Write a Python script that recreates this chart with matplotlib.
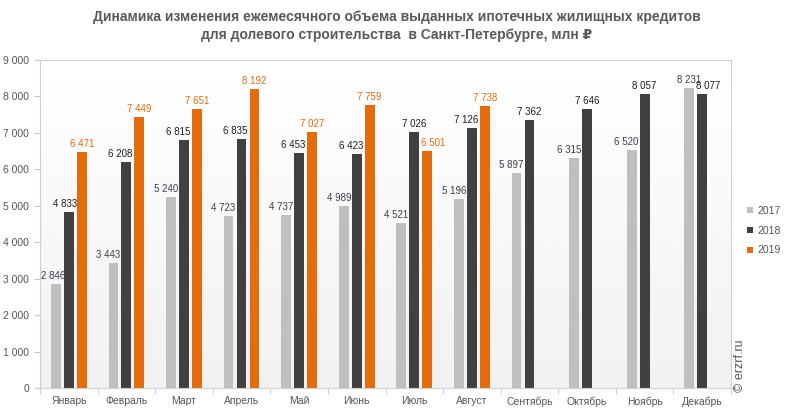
import matplotlib

matplotlib.use("Agg")
import matplotlib.pyplot as plt
import numpy as np
from matplotlib.transforms import offset_copy

plt.rcParams["font.family"] = ["Liberation Sans", "DejaVu Sans"]

months = [
    "Январь", "Февраль", "Март", "Апрель", "Май", "Июнь",
    "Июль", "Август", "Сентябрь", "Октябрь", "Ноябрь", "Декабрь",
]
values_2017 = [2846, 3443, 5240, 4723, 4737, 4989, 4521, 5196, 5897, 6315, 6520, 8231]
values_2018 = [4833, 6208, 6815, 6835, 6453, 6423, 7026, 7126, 7362, 7646, 8057, 8077]
values_2019 = [6471, 7449, 7651, 8192, 7027, 7759, 6501, 7738]

series = [
    ("2017", values_2017, "#bfbfbf", "#3a3f4a", -0.225),
    ("2018", values_2018, "#404040", "#1c1c28", 0.0),
    ("2019", values_2019, "#e46c0a", "#e46c0a", 0.225),
]

# horizontal nudges (pixels) the original chart uses to keep labels apart
default_nudge = {"2017": -5, "2018": -6, "2019": 0}
label_nudge = {
    ("2017", 0): -3, ("2017", 11): 0,
    ("2018", 0): -4, ("2018", 6): 0, ("2018", 8): 0, ("2018", 9): 0,
    ("2018", 10): 0, ("2018", 11): 6,
    ("2019", 6): 6,
}


def fmt(v):
    return f"{v:,}".replace(",", " ")


fig = plt.figure(figsize=(7.93, 4.15), dpi=100)
ax = fig.add_axes([40 / 793, 27 / 415, 691 / 793, 328 / 415])

# light vertical gradient background
grad = np.linspace(1.0, 0.945, 256).reshape(-1, 1)
ax.imshow(grad, cmap="gray", vmin=0, vmax=1, aspect="auto",
          extent=(-0.5, 11.5, 0, 9000), zorder=0)

x = np.arange(len(months))
for name, vals, color, text_color, off in series:
    xs = x[: len(vals)] + off
    ax.bar(xs, vals, width=0.17, color=color, label=name, zorder=2)
    for i, (xi, v) in enumerate(zip(xs, vals)):
        dx = label_nudge.get((name, i), default_nudge[name])
        trans = offset_copy(ax.transData, fig=fig, x=dx, y=3, units="dots")
        ax.text(xi, v, fmt(v), ha="center", va="bottom", transform=trans,
                fontsize=7, color=text_color, zorder=3)

ax.set_xlim(-0.5, 11.5)
ax.set_ylim(0, 9000)
ax.set_yticks(range(0, 9001, 1000))
ax.set_yticklabels([fmt(v) for v in range(0, 9001, 1000)])
ax.set_xticks(x)
ax.set_xticklabels(months)
ax.set_xticks(np.arange(-0.5, 12, 1), minor=True)
ax.tick_params(axis="x", which="major", length=0, pad=6)
ax.tick_params(axis="x", which="minor", length=4, color="#c8c8c8")
ax.tick_params(axis="y", length=4, color="#c8c8c8", pad=4)
ax.tick_params(labelsize=7.5, labelcolor="#555555")
for side in ("top", "right", "left", "bottom"):
    ax.spines[side].set_color("#d0d0d0")

fig.text(0.5, 0.975,
         "Динамика изменения ежемесячного объема выданных ипотечных жилищных кредитов\n"
         "для долевого строительства  в Санкт-Петербурге, млн ₽",
         ha="center", va="top", fontsize=10, fontweight="bold",
         color="#595959", linespacing=1.35)

ax.legend(loc="center left", bbox_to_anchor=(1.01, 0.48), frameon=False,
          fontsize=7.5, handlelength=0.55, handleheight=0.55, handletextpad=0.4,
          labelspacing=0.95, labelcolor="#555555")

fig.text(740 / 793, 1 - 366 / 415, "© erzrf.ru", rotation=90,
         ha="center", va="center", fontsize=9, color="#555555")

fig.savefig("out.png", dpi=100)
